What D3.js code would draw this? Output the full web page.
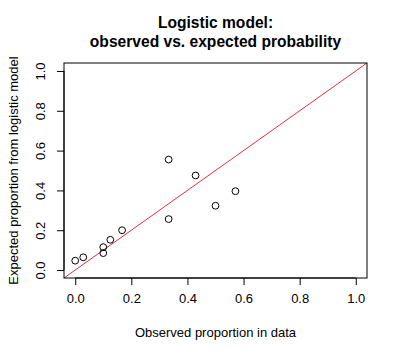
<!DOCTYPE html>
<html><head><meta charset="utf-8">
<script src="https://cdn.jsdelivr.net/npm/d3@7"></script>
<style>body{margin:0;background:#fff}svg{display:block}text{font-family:"Liberation Sans",Arial,sans-serif;fill:#000}</style>
</head><body>
<svg id="c" width="400" height="359"></svg>
<script>
const observed = [0, 0.0286, 0.1, 0.1, 0.125, 0.167, 0.333, 0.333, 0.429, 0.5, 0.571];
const expected = [0.047, 0.064, 0.115, 0.085, 0.152, 0.2, 0.555, 0.256, 0.475, 0.323, 0.396];
const xTicks = [0, 0.2, 0.4, 0.6, 0.8, 1.0];
const yTicks = [0, 0.2, 0.4, 0.6, 0.8, 1.0];
const titleLines = ["Logistic model:", "observed vs. expected probability"];
const xLabel = "Observed proportion in data";
const yLabel = "Expected proportion from logistic model";

const svg = d3.select("#c");
const L = 64, R = 367, T = 63, B = 278;
const x = d3.scaleLinear().domain([-0.04, 1.04]).range([L, R]);
const y = d3.scaleLinear().domain([-0.04, 1.04]).range([B, T]);
const fmt = d3.format(".1f");
const FS = 13;

svg.append("defs").append("clipPath").attr("id","clip")
  .append("rect").attr("x",L).attr("y",T).attr("width",R-L).attr("height",B-T);

// abline y = x
svg.append("line").attr("clip-path","url(#clip)")
  .attr("x1", x(-0.1)).attr("y1", y(-0.1)).attr("x2", x(1.1)).attr("y2", y(1.1))
  .attr("stroke", "#E0303F").attr("stroke-width", 1);

// points
svg.append("g").selectAll("circle").data(observed).join("circle")
  .attr("cx", (d) => x(d)).attr("cy", (d, i) => y(expected[i])).attr("r", 3.4)
  .attr("fill", "none").attr("stroke", "#000").attr("stroke-width", 1);

// box
svg.append("rect").attr("x", L).attr("y", T).attr("width", R-L).attr("height", B-T)
  .attr("fill","none").attr("stroke","#000").attr("stroke-width",1);

// x axis
const xa = svg.append("g").attr("transform", `translate(0,${B})`)
  .call(d3.axisBottom(x).tickValues(xTicks).tickFormat(fmt).tickSize(7).tickPadding(9));
xa.select(".domain").attr("d", `M${x(0)},0H${x(1)}`);
xa.selectAll("text").attr("font-size", FS).style("font-family", '"Liberation Sans",Arial,sans-serif');

// y axis
const ya = svg.append("g").attr("transform", `translate(${L},0)`)
  .call(d3.axisLeft(y).tickValues(yTicks).tickFormat(fmt).tickSize(7).tickPadding(0));
ya.select(".domain").attr("d", `M0,${y(0)}V${y(1)}`);
ya.selectAll(".tick text").attr("font-size", FS).style("font-family", '"Liberation Sans",Arial,sans-serif')
  .attr("x", null).attr("dy", null).attr("text-anchor", "middle")
  .attr("transform", "translate(-19,0) rotate(-90)");

// titles
svg.append("g").selectAll("text").data(titleLines).join("text")
  .attr("x", (L+R)/2).attr("y", (d, i) => 28 + i*18.5)
  .attr("text-anchor","middle").attr("font-weight","bold").attr("font-size", 15.6).text(d => d);

svg.append("text").attr("x", (L+R)/2).attr("y", 337).attr("text-anchor","middle")
  .attr("font-size", FS).text(xLabel);
svg.append("text").attr("transform", `translate(18,${(T+B)/2}) rotate(-90)`)
  .attr("text-anchor","middle").attr("font-size", FS).text(yLabel);
</script>
</body></html>
